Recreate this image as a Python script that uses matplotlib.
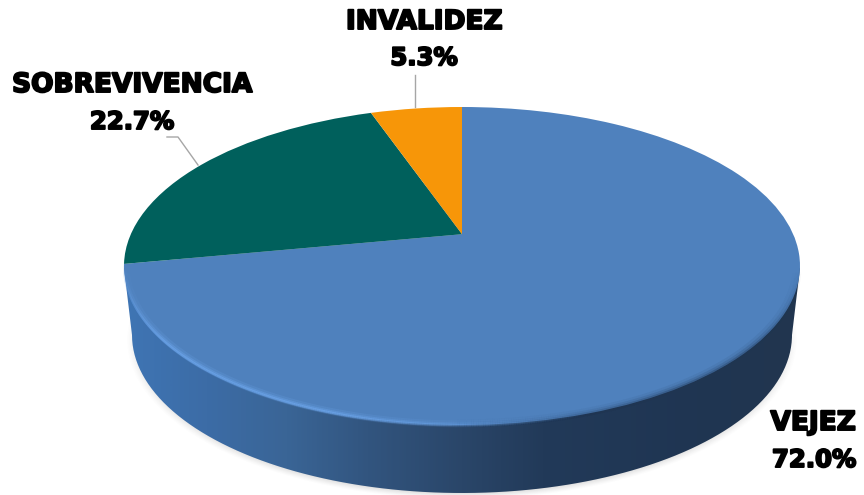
import numpy as np
import matplotlib
matplotlib.use("Agg")
import matplotlib.pyplot as plt
from matplotlib.collections import LineCollection
from matplotlib.colors import LinearSegmentedColormap, to_rgb
from matplotlib.patches import PathPatch
from matplotlib.path import Path
from matplotlib.transforms import Transform
import matplotlib.patheffects as pe

categories = ["VEJEZ", "SOBREVIVENCIA", "INVALIDEZ"]
values = [72.0, 22.7, 5.3]
colors = ["#4F81BD", "#00605C", "#F79608"]

W, H = 864, 495
CX, CY, RX, RY = 462.0, 266.0, 338.0, 159.0   # top-face ellipse, pixels
APEX = 0.20                                    # perspective shift of the pie centre


def px(x, y):
    return (x - CX) / RX, (CY - y) / RY


class Perspective(Transform):
    input_dims = output_dims = 2
    is_separable = False
    has_inverse = False

    def transform_non_affine(self, v):
        v = np.asarray(v, float)
        d = 1 + APEX * v[:, 1]
        return np.column_stack((v[:, 0] * np.sqrt(1 - APEX ** 2) / d, (v[:, 1] + APEX) / d))

    def transform_path_non_affine(self, path):
        return Path(self.transform_non_affine(path.vertices), path.codes)


fig = plt.figure(figsize=(W / 100, H / 100), dpi=100)
ax = fig.add_axes([0, 0, 1, 1])

wedges, _ = ax.pie(values, colors=colors, startangle=90, counterclock=False,
                   wedgeprops={"linewidth": 0})
persp = Perspective()
for w in wedges:
    w.set_transform(persp + ax.transData)
    w.set_zorder(5)

x0, y0 = px(0, H)
x1, y1 = px(W, 0)
ext = (x0, x1, y0, y1)

# lower rim ellipse
lx, ly, lrx, lry = 0.0, px(0, 335)[1], 330 / RX, 158 / RY

# soft shadow
gx, gy = np.meshgrid(np.linspace(x0, x1, W), np.linspace(y0, y1, H))
sy = ly - 5 / RY
r = np.sqrt(((gx - lx) / (lrx + 6 / RX)) ** 2 + ((gy - sy) / (lry + 2 / RY)) ** 2)
alpha = 0.30 * np.clip((1.0 - r) / 0.05, 0, 1) ** 1.3
rgba = np.zeros((H, W, 4))
rgba[..., :3] = 0.45
rgba[..., 3] = alpha
ax.imshow(rgba, extent=ext, origin="lower", aspect="auto", zorder=1, interpolation="bilinear")

# side wall with a horizontal gradient, clipped to the rim silhouette
t = np.linspace(np.pi, 2 * np.pi, 200)
wall = np.vstack(([px(124, 268)],
                  np.column_stack((lx + lrx * np.cos(t), ly + lry * np.sin(t))),
                  [px(800, 268)], [px(124, 268)]))
cmap = LinearSegmentedColormap.from_list("wall", [
    (0.00, "#3F75B4"), (0.12, "#3C6CA6"), (0.24, "#3A6596"), (0.36, "#32557F"),
    (0.50, "#2A4669"), (0.62, "#223A59"), (0.85, "#1F3552"), (1.00, "#22364F")])
im = ax.imshow(np.linspace(0, 1, 400)[None, :], extent=(px(124, 0)[0], px(800, 0)[0], y0, y1),
               origin="lower", aspect="auto", cmap=cmap, vmin=0, vmax=1, zorder=3,
               interpolation="bilinear")
clip = PathPatch(Path(wall), transform=ax.transData, fc="none", ec="none")
ax.add_patch(clip)
im.set_clip_path(clip)

# rim shading of the top face
th = np.radians(np.linspace(170, 372, 500))
ex, ey = np.cos(th), np.sin(th)
deg = np.degrees(th)
light = np.clip((deg - 178) / 30, 0, 1) * np.clip((292 - deg) / 45, 0, 1)
dark = np.clip((deg - 268) / 40, 0, 1) * np.clip((358 - deg) / 30, 0, 1)


def rim(scale, col, amp, lw, z):
    xs, ys = ex * scale, ey * scale
    pts = np.column_stack((xs, ys)).reshape(-1, 1, 2)
    segs = np.concatenate((pts[:-1], pts[1:]), axis=1)
    c = np.tile(to_rgb(col) + (0.0,), (len(segs), 1))
    c[:, 3] = amp[:-1]
    ax.add_collection(LineCollection(segs, colors=c, linewidths=lw, zorder=z, capstyle="butt"))


for s, a, lw in [(0.993, 0.18, 5), (0.997, 0.35, 3), (1.0, 0.6, 1.6)]:
    rim(s, "#6FA8EE", light * a, lw, 6)
for s, a, lw in [(0.99, 0.08, 6), (0.995, 0.16, 4), (1.0, 0.3, 2.5)]:
    rim(s, "#1F3552", dark * a, lw, 6)

# labels and leader lines
label_pos = [((813, 423), (814, 460)), ((132, 85), (132, 122)), ((424, 22), (424, 58))]
for name, v, (p1, p2) in zip(categories, values, label_pos):
    for txt, p, fs in ((name, p1, 19), (f"{v:.1f}%", p2, 17.5)):
        ax.text(*px(*p), txt, ha="center", va="center", color="black", fontsize=fs,
                family="DejaVu Sans", fontweight="bold", zorder=8,
                path_effects=[pe.withStroke(linewidth=1.4, foreground="black")])

leaders = [[(415, 75), (415, 107)], [(167, 137), (178, 137), (198, 165)]]
for seg in leaders:
    p = np.array([px(*q) for q in seg])
    ax.plot(p[:, 0], p[:, 1], color="#A6A6A6", lw=1, zorder=4)

ax.set_aspect("auto")
ax.set_xlim(x0, x1)
ax.set_ylim(y0, y1)
ax.axis("off")
fig.savefig("out.png", dpi=100, facecolor="white")
